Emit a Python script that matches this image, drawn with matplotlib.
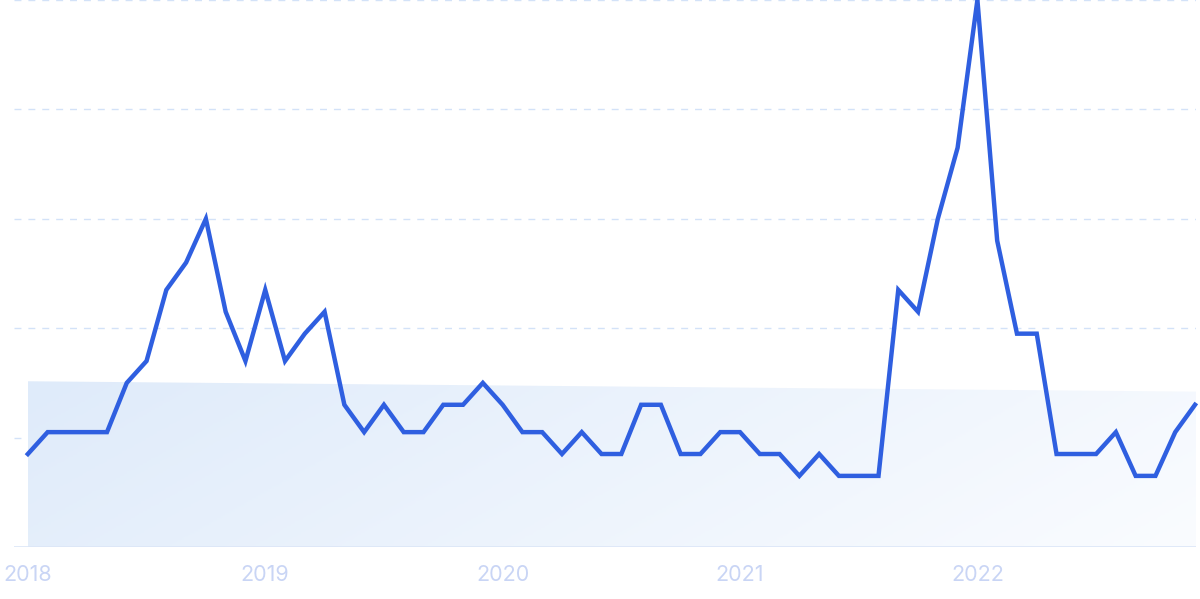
import numpy as np
import matplotlib
matplotlib.use("Agg")
import matplotlib.pyplot as plt
from matplotlib.colors import LinearSegmentedColormap
from matplotlib.patches import Polygon

# monthly interest, Jan 2018 .. Dec 2022
values = [17, 21, 21, 21, 21, 30, 34, 47, 52, 60, 43, 34,
          47, 34, 39, 43, 26, 21, 26, 21, 21, 26, 26, 30,
          26, 21, 21, 17, 21, 17, 17, 26, 26, 17, 17, 21,
          21, 17, 17, 13, 17, 13, 13, 13, 47, 43, 60, 73,
          100, 56, 39, 39, 17, 17, 17, 21, 13, 13, 21, 26]
year_labels = ["2018", "2019", "2020", "2021", "2022"]
trend_start = 30.3
trend_end = 28.4

plt.rcParams['font.family'] = ['Inter', 'DejaVu Sans']

fig = plt.figure(figsize=(12, 5.99), dpi=100)
ax = fig.add_axes([14 / 1200, 52 / 599, 1182 / 1200, 547 / 599])

months = np.arange(len(values))
ax.set_xlim(-0.7, len(values) - 0.95)
ax.set_ylim(0, 100)

# trend area with soft gradient
x0, x1 = months[0], months[-1] + 0.1
poly = Polygon([(x0, 0), (x0, trend_start), (x1, trend_end), (x1, 0)],
               closed=True, facecolor='none', edgecolor='none')
ax.add_patch(poly)
cmap = LinearSegmentedColormap.from_list("trend", ["#dfebfa", "#fafcff"])
gx, gy = np.meshgrid(np.linspace(0, 1, 300), np.linspace(0, 1, 100))
grad = 0.8 * gx + 0.2 * (1 - gy)
img = ax.imshow(grad, extent=[x0, x1, 0, trend_start], origin='lower',
                aspect='auto', cmap=cmap, zorder=1)
img.set_clip_path(poly)

# dashed grid
for gv in [20, 40, 60, 80, 100]:
    ax.axhline(gv, color="#d3e2f8", lw=1, ls=(0, (5, 5)), zorder=0.5)
ax.axhline(0, color="#dce6f7", lw=1.2, zorder=2)

ax.plot(months, values, color="#2f5fe0", lw=3.2, zorder=3,
        solid_joinstyle='miter', clip_on=False)

for s in ax.spines.values():
    s.set_visible(False)
ax.set_yticks([])
ax.set_xticks(np.arange(0, len(values), 12))
ax.set_xticklabels(year_labels, fontsize=15.5, color="#c9d5f5")
ax.tick_params(axis='x', length=0, pad=13)

fig.savefig("out.png", dpi=100, facecolor="white")
